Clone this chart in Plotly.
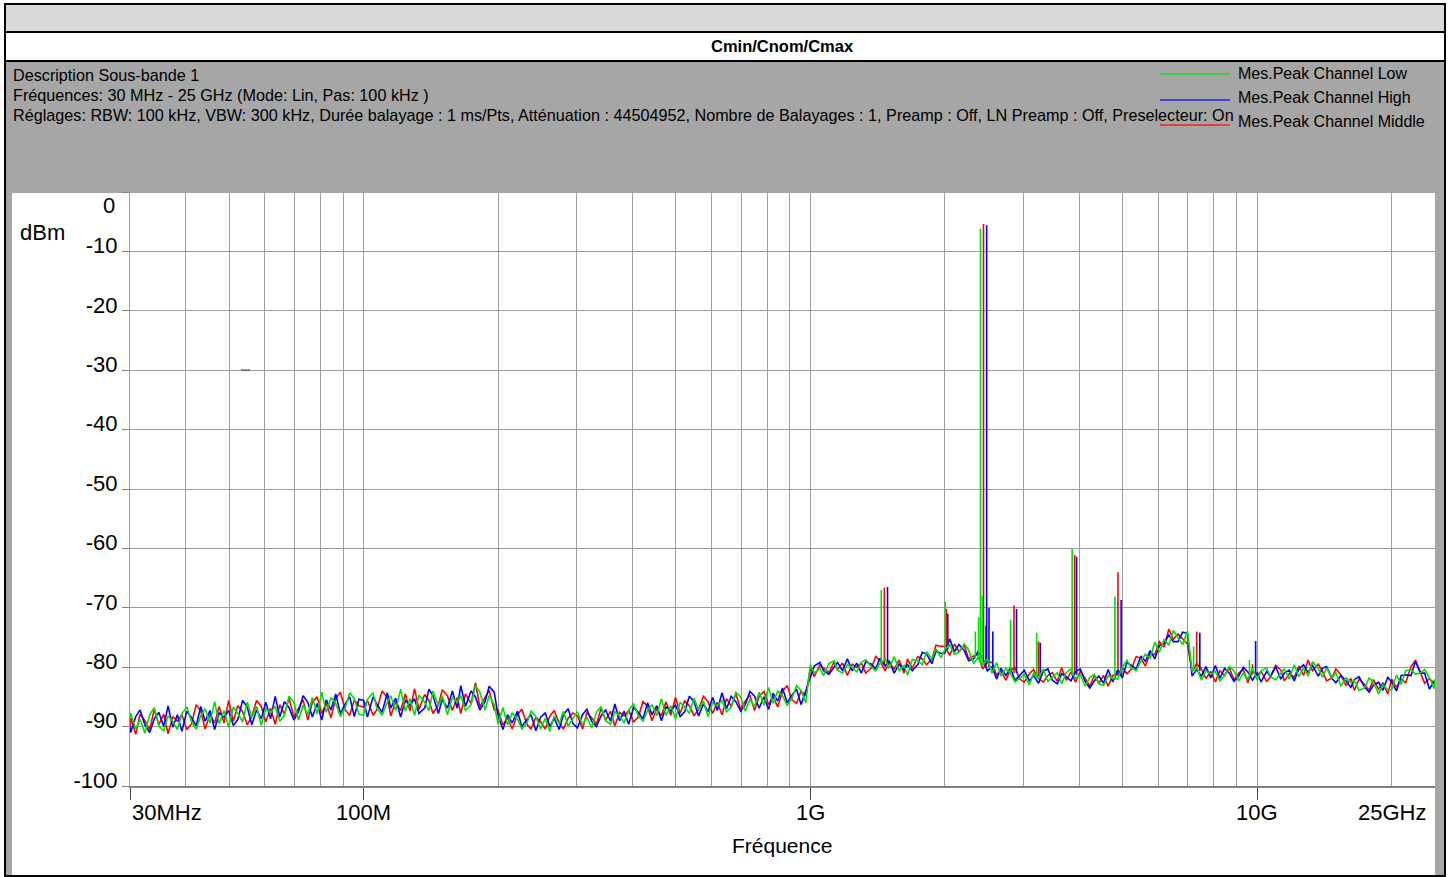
import math
import plotly.graph_objects as go

# ---------------- data (frequency in MHz, level in dBm) ----------------
FREQ_A = [30.0, 30.1, 30.9, 31.6, 32.4, 33.2, 34.0, 34.8, 35.7, 36.5, 37.4,
          38.3, 39.2, 40.2, 41.2, 42.2, 43.2, 44.2, 45.3, 46.4, 47.5,
          48.7, 49.9, 51.1, 52.3, 53.6, 54.9, 56.2, 57.6, 59.0, 60.4,
          61.9, 63.4, 64.9, 66.5, 68.1, 69.8, 71.5, 73.2, 75.0, 76.8,
          78.7, 80.6, 82.5, 84.5, 86.6, 88.7, 90.9, 93.1, 95.3, 97.6]
FREQ_B = [100, 102, 105, 107, 110, 113, 115, 118, 121, 124,
          127, 130, 133, 137, 140, 143, 147, 150, 154, 158,
          162, 165, 169, 174, 178, 182, 187, 191, 196,
          200, 205, 210, 215, 221, 226, 232, 237, 243, 249,
          255, 261, 267, 274, 280, 287, 294,
          301, 309, 316, 324, 332, 340, 348, 357, 365, 374,
          383, 392, 402, 412, 422, 432, 442, 453, 464, 475,
          487, 499, 511, 523, 536, 549, 562, 576, 590, 604,
          619, 634, 649, 665, 681, 698, 715, 732, 750, 768,
          787, 806, 825, 845, 866, 887, 909, 931, 953, 976]
FREQ_C = [1000, 1020, 1050, 1070, 1100, 1130, 1150, 1180, 1210, 1240,
          1270, 1300, 1330, 1370, 1400, 1430, 1470, 1500, 1540, 1580,
          1620, 1650, 1690, 1740, 1780, 1820, 1870, 1910, 1960,
          2000, 2050, 2100, 2150, 2210, 2260, 2320, 2370, 2430, 2490,
          2550, 2610, 2670, 2740, 2800, 2870, 2940,
          3010, 3090, 3160, 3240, 3320, 3400, 3480, 3570, 3650, 3740,
          3830, 3920, 4020, 4120, 4220, 4320, 4420, 4530, 4640, 4750,
          4870, 4990, 5110, 5230, 5360, 5490, 5620, 5760, 5900, 6040,
          6190, 6340, 6490, 6650, 6810, 6980, 7150, 7320, 7500, 7680,
          7870, 8060, 8250, 8450, 8660, 8870, 9090, 9310, 9530, 9760]
FREQ_D = [10000, 10200, 10500, 10700, 11000, 11300, 11500, 11800, 12100, 12400,
          12700, 13000, 13300, 13700, 14000, 14300, 14700, 15000, 15400, 15800,
          16200, 16500, 16900, 17400, 17800, 18200, 18700, 19100, 19600,
          20000, 20500, 21000, 21500, 22100, 22600, 23200, 23700, 24300, 24900,
          25000]

# Mes.Peak Channel Low (green)
LOW_A = [-88.5,
         -87.7, -90.4, -88.8, -91.1, -88.0, -86.8, -89.9, -90.7, -88.2, -89.1,
         -90.5, -87.8, -86.7, -89.2, -90.4, -88.2, -87.0, -89.4, -85.8, -89.5,
         -87.3, -90.1, -86.7, -87.8, -89.2, -85.9, -88.4, -86.6, -89.8, -87.0,
         -87.7, -86.6, -89.1, -88.1, -84.9, -85.9, -88.9, -86.4, -88.0, -85.1,
         -87.9, -84.2, -87.6, -85.1, -86.1, -88.3, -86.9, -84.3, -85.3, -87.9]
LOW_B = [-88.1, -85.4, -84.3, -86.9, -88.1, -85.9, -84.8, -87.3, -83.7, -87.4,
         -85.3, -88.1, -84.7, -85.9, -87.3, -84.0, -86.5, -84.8, -88.0, -85.1,
         -85.9, -84.8, -87.3, -86.3, -83.1, -84.2, -87.2, -84.8, -86.3,
         -89.6, -86.8, -89.7, -87.7, -88.7, -90.4, -89.4, -87.4, -88.3, -90.4,
         -88.6, -90.8, -88.2, -89.5, -87.4, -89.9, -88.7,
         -87.5, -89.7, -88.4, -90.2, -87.6, -86.6, -89.0, -89.6, -87.5, -88.2,
         -89.4, -87.2, -86.2, -88.2, -89.1, -87.3, -86.3, -88.2, -85.3, -88.1,
         -86.5, -88.7, -85.9, -86.7, -87.8, -85.2, -87.2, -85.7, -88.3, -86.0,
         -86.5, -85.6, -87.5, -86.7, -84.2, -85.0, -87.4, -85.4, -86.6, -84.2,
         -86.4, -83.4, -86.1, -84.0, -84.8, -86.4, -85.3, -83.1, -83.9, -86.0]
LOW_C = [-79.6, -81.0, -80.2, -81.4, -79.4, -78.9, -80.5, -81.0, -79.6, -80.0,
         -80.8, -79.2, -78.7, -80.0, -80.6, -79.4, -78.6, -80.2, -78.2, -80.6,
         -79.7, -81.3, -78.7, -78.9, -79.6, -77.4, -78.6, -76.9, -78.4,
         -77.0, -76.2, -77.8, -77.5, -76.1, -77.1, -79.4, -78.4, -79.7, -78.6,
         -81.0, -79.2, -81.5, -80.2, -81.0, -82.5, -81.9,
         -81.2, -83.0, -81.0, -81.9, -80.3, -82.4, -81.6, -80.9, -82.8, -80.9,
         -80.3, -81.9, -81.3, -83.2, -81.7, -81.2, -82.8, -83.1, -81.4, -81.9,
         -82.0, -80.0, -78.8, -80.2, -80.6, -79.0, -77.8, -78.5, -75.8, -77.5,
         -75.3, -76.3, -73.8, -75.1, -76.2, -73.9, -80.7, -80.0, -82.2, -80.6,
         -81.2, -80.7, -82.3, -81.5, -79.9, -80.6, -82.3, -81.0, -82.0, -80.2]
LOW_D = [-82.2, -80.6, -80.1, -81.6, -82.1, -81.0, -80.3, -82.0, -79.6, -81.6,
         -80.1, -81.5, -79.1, -80.2, -81.7, -80.1, -81.8, -80.9, -83.2, -81.8,
         -82.6, -82.2, -83.9, -83.5, -81.8, -82.5, -84.5, -83.0, -83.8,
         -83.8, -81.3, -82.9, -80.6, -80.4, -81.2, -81.0, -80.4, -81.8, -83.6,
         -82.0]

# Mes.Peak Channel High (blue)
HIGH_A = [-90.2,
          -91.0, -88.3, -87.2, -89.7, -91.0, -88.7, -87.6, -90.0, -86.5, -90.1,
          -88.0, -90.8, -87.4, -88.5, -89.9, -86.6, -89.1, -87.3, -90.5, -87.7,
          -88.4, -87.3, -89.8, -88.8, -85.6, -86.7, -89.7, -87.2, -88.7, -85.9,
          -88.7, -84.9, -88.4, -85.8, -86.8, -88.9, -87.5, -84.8, -85.9, -88.4,
          -86.1, -88.9, -85.5, -87.2, -84.5, -87.8, -86.2, -85.0, -88.3, -85.4]
HIGH_B = [-85.6, -88.4, -85.0, -86.2, -87.6, -84.3, -86.9, -85.2, -88.4, -85.6,
          -86.4, -85.3, -87.8, -86.9, -83.7, -84.8, -87.8, -85.4, -86.9, -84.0,
          -86.9, -83.1, -86.6, -84.0, -85.0, -87.2, -85.8, -83.2, -84.2,
          -88.2, -90.5, -88.0, -89.4, -87.4, -90.0, -88.8, -88.0, -90.7, -88.4,
          -87.7, -90.0, -88.6, -90.5, -88.0, -87.0, -89.5,
          -90.2, -88.0, -87.1, -89.1, -90.0, -88.2, -87.2, -89.1, -86.2, -89.0,
          -87.4, -89.6, -86.8, -87.6, -88.7, -86.0, -88.0, -86.5, -89.0, -86.7,
          -87.3, -86.4, -88.3, -87.5, -84.9, -85.8, -88.2, -86.2, -87.5, -85.1,
          -87.3, -84.3, -87.0, -84.9, -85.8, -87.4, -86.3, -84.1, -84.9, -86.9,
          -85.0, -87.1, -84.4, -85.7, -83.5, -86.0, -84.7, -83.7, -86.3, -84.0]
HIGH_C = [-81.6, -79.8, -79.2, -80.6, -81.2, -80.0, -79.2, -80.6, -78.6, -80.6,
          -79.3, -81.0, -79.1, -79.5, -80.3, -78.5, -79.8, -78.9, -81.0, -79.5,
          -80.4, -79.6, -80.6, -79.5, -77.5, -77.8, -79.4, -77.3, -77.7,
          -77.6, -75.2, -77.4, -76.2, -77.2, -78.9, -78.6, -77.4, -78.5, -80.6,
          -79.9, -82.0, -80.2, -81.4, -80.1, -82.2, -81.4,
          -80.5, -82.3, -81.4, -82.7, -80.7, -80.3, -82.2, -82.8, -81.1, -81.6,
          -82.3, -80.7, -80.3, -82.4, -83.5, -82.3, -81.5, -82.7, -80.4, -82.5,
          -80.5, -81.8, -79.2, -79.7, -80.3, -78.1, -79.0, -77.2, -78.6, -76.4,
          -76.0, -74.6, -75.7, -75.7, -74.1, -74.3, -81.5, -80.4, -81.5, -79.9,
          -81.8, -79.7, -81.9, -80.2, -81.0, -82.4, -81.5, -80.0, -80.8, -82.2]
HIGH_D = [-80.9, -82.5, -80.7, -81.6, -79.9, -82.0, -81.0, -80.5, -82.3, -80.3,
          -79.6, -80.9, -79.7, -81.5, -80.2, -79.9, -81.9, -82.6, -81.4, -82.3,
          -83.4, -82.1, -81.6, -83.4, -84.2, -83.0, -82.5, -83.9, -81.7,
          -82.5, -84.0, -81.4, -81.3, -81.4, -79.0, -81.0, -81.0, -83.7, -82.3,
          -83.1]

# Mes.Peak Channel Middle (red)
MID_A = [-90.8,
         -88.5, -91.3, -87.9, -89.0, -90.5, -87.1, -89.7, -87.9, -91.2, -88.3,
         -89.1, -88.0, -90.5, -89.5, -86.3, -87.4, -90.4, -87.9, -89.4, -86.6,
         -89.4, -85.6, -89.1, -86.5, -87.5, -89.7, -88.3, -85.6, -86.6, -89.2,
         -86.9, -89.6, -86.3, -87.9, -85.2, -88.4, -86.8, -85.5, -88.9, -85.9,
         -85.0, -87.8, -86.1, -88.5, -85.3, -84.2, -87.2, -88.1, -85.5, -86.5]
MID_B = [-86.7, -85.6, -88.1, -87.2, -84.0, -85.1, -88.2, -85.8, -87.3, -84.5,
         -87.4, -83.6, -87.1, -84.6, -85.6, -87.8, -86.4, -83.8, -84.8, -87.3,
         -85.1, -87.8, -84.5, -86.1, -82.6, -86.7, -85.1, -83.9, -87.2,
         -87.3, -89.7, -88.5, -90.4, -88.0, -87.1, -89.6, -90.4, -88.4, -89.2,
         -90.4, -88.3, -87.3, -89.4, -90.4, -88.6, -87.7,
         -88.2, -90.4, -87.7, -88.5, -89.6, -86.9, -88.9, -87.4, -89.9, -87.6,
         -88.2, -87.3, -89.2, -88.4, -85.8, -86.6, -89.0, -87.0, -88.2, -85.8,
         -88.1, -85.1, -87.8, -85.7, -86.5, -88.2, -87.1, -84.9, -85.8, -87.8,
         -85.9, -88.0, -85.3, -86.6, -84.5, -87.0, -85.7, -84.7, -87.3, -84.9,
         -84.1, -86.3, -84.9, -86.7, -84.1, -83.1, -85.5, -86.1, -84.0, -84.8]
MID_C = [-80.1, -81.6, -79.6, -80.1, -80.9, -79.1, -80.4, -79.3, -81.4, -79.5,
         -80.0, -79.3, -81.0, -80.1, -78.2, -78.9, -80.6, -79.3, -80.3, -78.8,
         -81.0, -78.6, -80.2, -78.2, -78.6, -79.6, -78.6, -76.3, -76.5,
         -76.5, -78.0, -76.1, -77.4, -76.3, -78.6, -78.1, -77.8, -80.3, -79.1,
         -79.2, -81.3, -80.6, -82.2, -80.5, -80.1, -82.0,
         -82.5, -81.1, -80.4, -81.9, -82.5, -81.4, -80.9, -82.4, -80.1, -82.2,
         -80.8, -82.5, -80.7, -81.9, -83.2, -81.4, -82.7, -81.4, -83.2, -81.4,
         -81.2, -80.1, -81.1, -80.3, -78.2, -78.5, -79.8, -77.6, -77.9, -75.7,
         -76.6, -73.6, -75.3, -74.4, -75.2, -76.1, -80.7, -79.4, -80.3, -81.9,
         -80.7, -82.5, -80.6, -81.4, -80.1, -82.1, -81.0, -80.4, -82.6, -80.7]
MID_D = [-81.4, -80.7, -82.4, -81.7, -79.7, -80.5, -82.3, -81.1, -81.7, -79.8,
         -81.4, -78.8, -80.6, -79.5, -80.7, -82.3, -81.8, -80.3, -81.3, -83.1,
         -81.9, -83.9, -82.0, -82.9, -83.9, -82.1, -83.7, -82.6, -84.5,
         -82.0, -83.4, -82.0, -82.6, -79.9, -78.8, -81.1, -82.7, -81.9, -82.8,
         -82.3]

# Narrow emissions (frequency MHz, peak dBm, floor dBm at that frequency)
SPIKE_LOW_MHZ = [1441, 2003, 2340, 2380, 2402, 2425, 2805, 3210, 3853, 4804, 7206, 9608]
SPIKE_LOW_TOP = [-67.0, -69.0, -74.0, -71.6, -6.2, -68.0, -72.0, -74.2, -60.1, -68.1, -76.5, -78.8]
SPIKE_LOW_BASE = [-79.5, -77.0, -78.5, -78.5, -79.0, -79.5, -81.0, -81.5, -81.3, -82.0, -80.5, -81.2]
SPIKE_MID_MHZ = [1464, 2015, 2440, 2470, 2855, 3240, 3902, 4880, 7320, 9760]
SPIKE_MID_TOP = [-66.6, -70.2, -5.4, -73.0, -69.6, -75.7, -61.1, -64.0, -74.0, -79.5]
SPIKE_MID_BASE = [-79.5, -77.0, -79.0, -80.0, -81.0, -81.5, -81.3, -81.5, -80.5, -81.2]
SPIKE_HIGH_MHZ = [1488, 2030, 2480, 2510, 2560, 2893, 3270, 3942, 4960, 7440, 9920]
SPIKE_HIGH_TOP = [-66.5, -71.0, -5.6, -70.0, -74.0, -70.2, -75.9, -61.4, -68.7, -74.2, -75.6]
SPIKE_HIGH_BASE = [-79.5, -77.0, -79.5, -80.0, -80.5, -81.0, -81.5, -81.3, -81.5, -80.6, -81.2]

Y_TICKS = [-100, -90, -80, -70, -60, -50, -40, -30, -20, -10, 0]
X_TICKS = [30, 100, 1000, 10000]
X_TICKTEXT = ["30MHz", "100M", "1G", "10G"]
X_MINOR = [40, 50, 60, 70, 80, 90, 200, 300, 400, 500, 600, 700, 800, 900,
           2000, 3000, 4000, 5000, 6000, 7000, 8000, 9000, 20000]
X_END_LABEL = "25GHz"

TITLE = "Cmin/Cnom/Cmax"
HEADER = ["Description Sous-bande 1",
          "Fréquences: 30 MHz - 25 GHz (Mode: Lin, Pas: 100 kHz )",
          "Réglages: RBW: 100 kHz, VBW: 300 kHz, Durée balayage : 1 ms/Pts, Atténuation : 44504952, "
          "Nombre de Balayages : 1, Preamp : Off, LN Preamp : Off, Preselecteur: On"]

# ---------------- figure ----------------
FREQ = FREQ_A + FREQ_B + FREQ_C + FREQ_D
SERIES = [
    ("Mes.Peak Channel Middle", "#ff0000", MID_A + MID_B + MID_C + MID_D,
     SPIKE_MID_MHZ, SPIKE_MID_TOP, SPIKE_MID_BASE),
    ("Mes.Peak Channel High", "#0000ff", HIGH_A + HIGH_B + HIGH_C + HIGH_D,
     SPIKE_HIGH_MHZ, SPIKE_HIGH_TOP, SPIKE_HIGH_BASE),
    ("Mes.Peak Channel Low", "#00e000", LOW_A + LOW_B + LOW_C + LOW_D,
     SPIKE_LOW_MHZ, SPIKE_LOW_TOP, SPIKE_LOW_BASE),
]

W, H = 1451, 877
PL, PR, PT, PB = 130, 1435, 192, 786
FONT = "Liberation Sans, Arial, sans-serif"


def px(x):
    return (x - PL) / (PR - PL)


def py(y):
    return (PB - y) / (PB - PT)


fig = go.Figure()
for name, color, ys, sf, st, sb in SERIES:
    assert len(ys) == len(FREQ), (name, len(ys), len(FREQ))
    fig.add_trace(go.Scatter(x=FREQ, y=ys, mode="lines", name=name,
                             line=dict(color=color, width=1.6), showlegend=False))
    sx, sy = [], []
    for f, t, b in zip(sf, st, sb):
        sx += [f, f, None]
        sy += [b, t, None]
    fig.add_trace(go.Scatter(x=sx, y=sy, mode="lines", name=name,
                             line=dict(color=color, width=1.6), showlegend=False))

shapes = [
    dict(type="rect", xref="paper", yref="paper", x0=px(5), x1=px(1445), y0=py(4), y1=py(876),
         fillcolor="#a6a6a6", line=dict(color="black", width=2), layer="below"),
    dict(type="rect", xref="paper", yref="paper", x0=px(5), x1=px(1445), y0=py(4), y1=py(32),
         fillcolor="#d9d9d9", line=dict(color="black", width=2), layer="below"),
    dict(type="rect", xref="paper", yref="paper", x0=px(5), x1=px(1445), y0=py(32), y1=py(61),
         fillcolor="white", line=dict(color="black", width=2), layer="below"),
    dict(type="rect", xref="paper", yref="paper", x0=px(12), x1=px(1435), y0=py(193), y1=py(875),
         fillcolor="white", line=dict(width=0), layer="below"),
    # small dark dash on the -30 dBm grid line
    dict(type="line", xref="paper", yref="y", x0=px(241), x1=px(250), y0=-30, y1=-30,
         line=dict(color="#7a7a7a", width=2)),
]

annotations = [
    dict(text="<b>%s</b>" % TITLE, xref="paper", yref="paper", x=px(782), y=py(46),
         xanchor="center", yanchor="middle", showarrow=False, font=dict(size=16.5, color="black")),
    dict(text="dBm", xref="paper", yref="paper", x=px(18), y=py(233),
         xanchor="left", yanchor="middle", showarrow=False, font=dict(size=22, color="black")),
    dict(text="0", xref="paper", yref="y", x=px(117), y=0, yshift=-13,
         xanchor="right", yanchor="middle", showarrow=False, font=dict(size=22, color="black")),
    dict(text=X_END_LABEL, xref="x", yref="paper", x=math.log10(25000), xshift=-7, y=py(812),
         xanchor="right", yanchor="middle", showarrow=False, font=dict(size=22, color="black")),
    dict(text="Fréquence", xref="paper", yref="paper", x=px(782), y=py(845),
         xanchor="center", yanchor="middle", showarrow=False, font=dict(size=21, color="black")),
]
for v, t in zip(X_TICKS, X_TICKTEXT):
    annotations.append(dict(text=t, xref="x", yref="paper", x=math.log10(v), y=py(812),
                            xanchor="left" if v == X_TICKS[0] else "center", yanchor="middle",
                            showarrow=False, font=dict(size=22, color="black")))
for i, line in enumerate(HEADER):
    annotations.append(dict(text=line, xref="paper", yref="paper", x=px(11), y=py(75 + 20 * i),
                            xanchor="left", yanchor="middle", showarrow=False,
                            font=dict(size=16.2, color="black")))

legend_rows = [("Mes.Peak Channel Low", "#22dd22", 74, 73),
               ("Mes.Peak Channel High", "#2222ee", 100, 98),
               ("Mes.Peak Channel Middle", "#ee2222", 125, 122)]
for name, color, ly, ty in legend_rows:
    shapes.append(dict(type="line", xref="paper", yref="paper", x0=px(1160), x1=px(1230),
                       y0=py(ly), y1=py(ly), line=dict(color=color, width=1.5)))
    annotations.append(dict(text=name, xref="paper", yref="paper", x=px(1236), y=py(ty),
                            xanchor="left", yanchor="middle", showarrow=False,
                            font=dict(size=16, color="black")))

GRID = "#9c9c9c"
fig.update_layout(
    width=W, height=H, autosize=False,
    margin=dict(l=PL, r=W - PR, t=PT, b=H - PB, pad=0),
    paper_bgcolor="white", plot_bgcolor="white",
    font=dict(family=FONT, color="black"),
    showlegend=False,
    shapes=shapes, annotations=annotations,
    xaxis=dict(type="log", range=[math.log10(30), math.log10(25000)],
               tickmode="array", tickvals=X_TICKS, ticktext=["" for _ in X_TICKS],
               ticks="outside", ticklen=12, tickwidth=1, tickcolor="#444444",
               showgrid=True, gridcolor=GRID, gridwidth=1,
               minor=dict(tickmode="array", tickvals=X_MINOR, showgrid=True,
                          gridcolor=GRID, gridwidth=1, ticks=""),
               showline=True, linecolor="#808080", linewidth=2, zeroline=False),
    yaxis=dict(range=[-100, 0], tickmode="array", tickvals=Y_TICKS,
               ticktext=[str(v) if v != 0 else "" for v in Y_TICKS],
               ticks="outside", ticklen=7, tickwidth=1, tickcolor="#808080",
               tickfont=dict(size=22, color="black"), ticklabelshift=-6,
               showgrid=True, gridcolor=GRID, gridwidth=1,
               showline=True, linecolor=GRID, linewidth=1, zeroline=False),
)

fig.write_html("out.html")
